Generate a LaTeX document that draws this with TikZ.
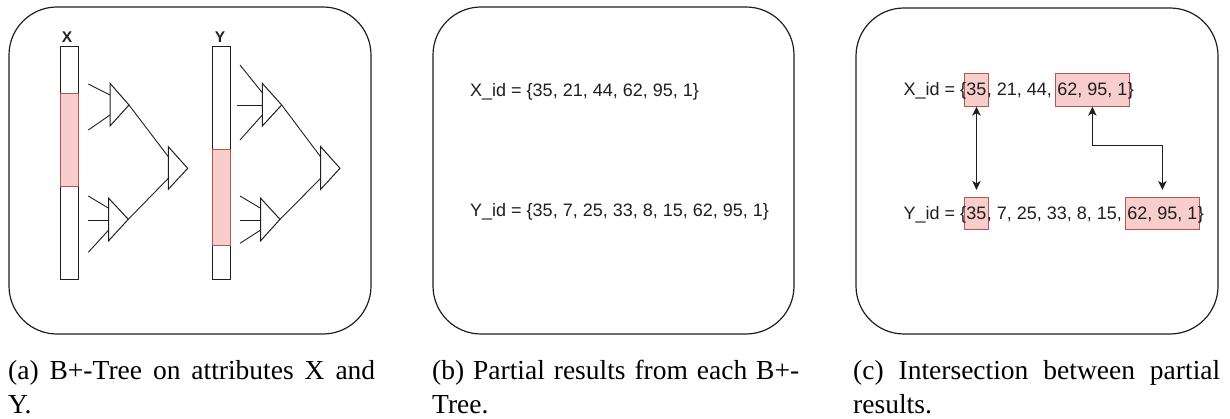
\documentclass[tikz,border=0pt]{standalone}
\usepackage{fontspec}
\setmainfont{Liberation Serif}
\newfontfamily\arialfont{Liberation Sans}
\usetikzlibrary{arrows.meta,calc,fit,backgrounds}

\definecolor{hlfill}{HTML}{F8CECC}
\definecolor{hlline}{HTML}{B85450}
\definecolor{ink}{HTML}{1F1F1F}

\begin{document}
\begin{tikzpicture}[x=1pt,y=-1pt,
  panel/.style={draw=ink, line width=1.2pt, rounded corners=48pt},
  bar/.style={draw=ink, line width=1pt, fill=white},
  hlbar/.style={draw=hlline, line width=1pt, fill=hlfill},
  tri/.style={draw=ink, line width=1pt, fill=white, line join=miter},
  edge/.style={draw=ink, line width=0.9pt},
  lbl/.style={font=\arialfont\bfseries\fontsize{15.5}{17}\selectfont, text=ink, inner sep=0pt, anchor=base},
  idtxt/.style={font=\arialfont\fontsize{18}{21}\selectfont, text=ink, inner sep=0pt, anchor=base west},
  piece/.style={idtxt, text height=22pt, text depth=10pt},
  hl/.style={draw=hlline, fill=hlfill, line width=1pt, inner xsep=1.5pt, inner ysep=0pt},
  biarrow/.style={{Stealth[length=9pt,width=8.5pt,inset=2.5pt]}-{Stealth[length=9pt,width=8.5pt,inset=2.5pt]}, draw=ink, line width=1pt},
  capt/.style={font=\fontsize{27.5}{34}\selectfont, text=black, inner sep=0pt, text width=367pt, align=justify, anchor=north west}
]
\useasboundingbox (0,0) rectangle (1230,419);

% ---------- panel frames ----------
\draw[panel] (9,7) rectangle (371,334);
\draw[panel] (433,7) rectangle (794,334);
\draw[panel] (856,8) rectangle (1218,334);

% ---------- (a) index columns ----------
\node[lbl] (lx) at (67,42.5) {X};
\node[lbl] (ly) at (220,42.5) {Y};
\draw[bar] (60.3,46.7) rectangle (78.7,280);
\draw[hlbar] (60.3,93.3) rectangle (78.7,186.7);
\draw[bar] (212.3,46.7) rectangle (230.7,280);
\draw[hlbar] (212.3,149.3) rectangle (230.7,246);

% ---------- (a) B+-tree on X ----------
\draw[edge] (88.3,84) -- (110,95);
\draw[edge] (88.3,130) -- (110,115);
\draw[edge] (88.3,196) -- (108.7,208.3);
\draw[edge] (88.3,220) -- (108.7,220);
\draw[edge] (88.3,252.3) -- (108.7,230);
\draw[edge] (129,105) -- (168.3,156.7);
\draw[edge] (128.3,219.3) -- (168.3,178.3);
\draw[tri] (110,83.3) -- (129,105) -- (110,126) -- cycle;
\draw[tri] (108.7,198.3) -- (128.3,219.3) -- (108.7,240.7) -- cycle;
\draw[tri] (168.3,146.7) -- (187.7,168.3) -- (168.3,189.3) -- cycle;

% ---------- (a) B+-tree on Y ----------
\draw[edge] (240,65) -- (262.3,92.7);
\draw[edge] (236.7,105.3) -- (262.3,105.3);
\draw[edge] (240,140) -- (262.3,115);
\draw[edge] (240,196) -- (260.7,208.3);
\draw[edge] (240,220) -- (260.7,220);
\draw[edge] (240,243.3) -- (260.7,230);
\draw[edge] (281.7,105) -- (320.7,157);
\draw[edge] (280,219.3) -- (320.7,178.3);
\draw[tri] (262.3,83.3) -- (281.7,105) -- (262.3,126) -- cycle;
\draw[tri] (260.7,198.3) -- (280,219.3) -- (260.7,240.7) -- cycle;
\draw[tri] (320.7,146.7) -- (340,168.3) -- (320.7,189.3) -- cycle;

% ---------- (b) partial results ----------
\node[idtxt] (bx) at (470,96.5) {X\_id = \{35, 21, 44, 62, 95, 1\}};
\node[idtxt] (by) at (470,216.5) {Y\_id = \{35, 7, 25, 33, 8, 15, 62, 95, 1\}};

% ---------- (c) intersection ----------
\node[piece] (xa) at (903.3,96) {X\_id = \{};
\node[piece] (x35) at (xa.base east) {35};
\node[piece] (xb) at (x35.base east) {,~21,~44,~\null};
\node[piece] (xtail) at (xb.base east) {62,~95,~1};
\node[piece] (xc) at (xtail.base east) {\}};

\node[piece] (ya) at (903.3,219.6) {Y\_id = \{};
\node[piece] (y35) at (ya.base east) {35};
\node[piece] (yb) at (y35.base east) {,~7,~25,~33,~8,~15,~\null};
\node[piece] (ytail) at (yb.base east) {62,~95,~1};
\node[piece] (yc) at (ytail.base east) {\}};

\begin{scope}[on background layer]
  \node[hl, fit=(x35)] (h1) {};
  \node[hl, fit=(xtail)] (h2) {};
  \node[hl, fit=(y35)] (h3) {};
  \node[hl, fit=(ytail)] (h4) {};
\end{scope}

\coordinate (e1) at ($(h3.north)+(0,-7)$);
\coordinate (e2) at ($(h4.north)+(0,-7)$);
\draw[biarrow] (h1.south) -- (h1.south |- e1);
\draw[biarrow] (h2.south) -- ++(0,39.3) -| (e2);

% ---------- captions ----------
\node[capt] (ca) at (8,360) {(a) B+-Tree on attributes X and\linebreak Y.};
\node[capt] (cb) at (432,360) {(b) Partial results from each B+-\linebreak Tree.};
\node[capt] (cc) at (853,360) {(c) Intersection between partial\linebreak results.};
\end{tikzpicture}
\end{document}
